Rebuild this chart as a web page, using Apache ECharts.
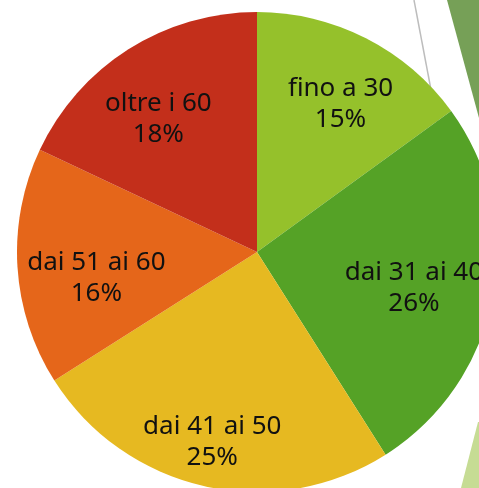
<!DOCTYPE html>
<html>
<head>
<meta charset="utf-8">
<script src="https://cdn.jsdelivr.net/npm/echarts@6/dist/echarts.min.js"></script>
<style>
  html, body { margin: 0; padding: 0; background: #fff; }
  #chart { width: 479px; height: 488px; }
</style>
</head>
<body>
<div id="chart"></div>
<script>
// fasce d'età e quote
var categories = ['fino a 30', 'dai 31 ai 40', 'dai 41 ai 50', 'dai 51 ai 60', 'oltre i 60'];
var values = [15, 26, 25, 16, 18];
var colors = ['#95C12B', '#55A226', '#E6B921', '#E5661A', '#C32F1B'];

var myPie = echarts.init(document.getElementById('chart'));

// piccoli spostamenti delle etichette, come nella slide originale
var nudge = {
    'fino a 30': [5, 6],
    'dai 31 ai 40': [-13, 4],
    'dai 41 ai 50': [-7, 21],
    'dai 51 ai 60': [12, 15],
    'oltre i 60': [-6, 13]
};

var pieData = [];
var labelData = [];
for (var i = 0; i < categories.length; i++) {
    pieData.push({ value: values[i], name: categories[i], itemStyle: { color: colors[i] } });
    labelData.push({ value: values[i], name: categories[i], label: { offset: nudge[categories[i]] } });
}

var option = {
    animation: false,
    graphic: [
        // decorazioni della slide
        {
            type: 'line', z: -10,
            shape: { x1: 414, y1: 0, x2: 479, y2: 343 },
            style: { stroke: '#bdbdbd', lineWidth: 1.5 }
        },
        {
            type: 'polygon', z: -10,
            shape: { points: [[447, 0], [479, 0], [479, 118]] },
            style: { fill: '#5e8f3a', opacity: 0.85 }
        },
        {
            type: 'polygon', z: -10,
            shape: { points: [[478, 422], [479, 422], [479, 488], [461, 488]] },
            style: { fill: '#c6dc94' }
        }
    ],
    series: [
        {
            name: 'età',
            type: 'pie',
            center: [257, 252],
            radius: [0, 240],
            startAngle: 90,
            clockwise: true,
            label: { show: false },
            labelLine: { show: false },
            emphasis: { disabled: true },
            data: pieData
        },
        {
            // serie trasparente solo per posizionare le etichette
            name: 'etichette',
            type: 'pie',
            center: [257, 252],
            radius: [100, 240],
            startAngle: 90,
            clockwise: true,
            silent: true,
            itemStyle: { color: 'rgba(0,0,0,0)' },
            labelLine: { show: false },
            label: {
                show: true,
                position: 'inside',
                formatter: '{b}\n{c}%',
                color: '#111',
                fontFamily: 'Noto Sans',
                fontSize: 26,
                lineHeight: 31,
                align: 'center'
            },
            data: labelData
        }
    ]
};

myPie.setOption(option);
</script>
</body>
</html>
